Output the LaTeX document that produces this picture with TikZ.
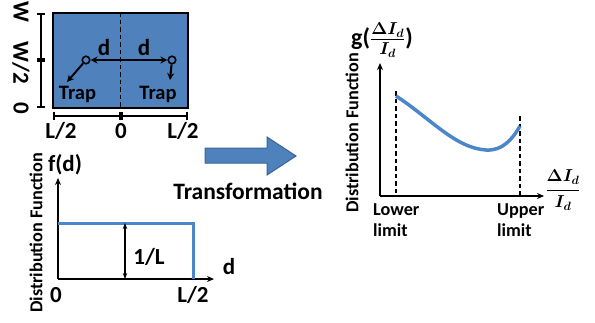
\documentclass[tikz,border=0pt]{standalone}
\usepackage{amsmath}
\usepackage{fontspec}
\setmainfont{Carlito}
\usetikzlibrary{arrows.meta}
\usetikzlibrary{calc}
\usetikzlibrary{positioning}
\definecolor{plotblue}{HTML}{4F81BD}
\definecolor{rimblue}{HTML}{3A6496}
\definecolor{curveblue}{HTML}{4A86C8}
\newcommand{\smallratio}{\ensuremath{\tfrac{\Delta I_d}{I_d}}}
\newcommand{\bigratio}{\ensuremath{\dfrac{\Delta I_d}{I_d}}}

\begin{document}
\begin{tikzpicture}[x=1pt,y=-1pt,
  lbl/.style={font=\bfseries\fontsize{23}{23}\selectfont, inner sep=1pt},
  traplbl/.style={font=\bfseries\fontsize{20.5}{20.5}\selectfont, inner sep=1pt},
  axlbl/.style={font=\bfseries\fontsize{18.2}{21}\selectfont, inner sep=1pt},
  mathlbl/.style={font=\bfseries\boldmath\fontsize{18.2}{18.2}\selectfont, inner sep=1pt},
  big/.style={font=\bfseries\fontsize{23.5}{23.5}\selectfont, inner sep=1pt},
  axis/.style={line width=2pt,-{Stealth[length=7pt,width=6pt]}},
  bar/.style={line width=2pt,{Bar[width=8pt]}-{Bar[width=8pt]}},
  tip/.style={line width=2pt,-{Stealth[length=7pt,width=7pt]}},
  limitline/.style={line width=1.6pt,dash pattern=on 4.5pt off 3pt},
  trap/.style={circle,draw,line width=1.6pt,inner sep=0pt,minimum size=7.5pt}]
  \useasboundingbox (0,0) rectangle (595,322);

  % device with two traps
  \node[draw=black, line width=2pt, fill=plotblue, minimum width=135pt, minimum height=95pt, inner sep=0pt] (chip) at (120.5,60.5) {};
  \draw[limitline] (chip.north) -- (chip.south);
  \coordinate (mid) at (121,60);
  \node[trap] (trapL) at (86,60) {};
  \node[trap] (trapR) at (172,60) {};
  \coordinate (fallL) at (67,82);
  \coordinate (fallR) at (170,80);
  \path [tip] (mid) edge (trapL);
  \path [tip] (mid) edge (trapR);
  \path [tip] (trapL) edge (fallL);
  \path [tip] (trapR) edge (fallR);
  \node[lbl] (dL) at (104,48) {d};
  \node[lbl] (dR) at (144,48) {d};
  \node[traplbl] (trapTxtL) at (77.5,94) {Trap};
  \node[traplbl] (trapTxtR) at (158,94) {Trap};

  % scale bars
  \coordinate (wTop) at (41,13);
  \coordinate (wMid) at (41,60);
  \coordinate (wBot) at (41,108);
  \draw[bar] (wTop) -- (wMid);
  \draw[bar] (wMid) -- (wBot);
  \node[lbl, rotate=-90] (wTxt) at (21,12) {W};
  \node[lbl, rotate=-90] (w2Txt) at (21,63) {W/2};
  \node[lbl, rotate=-90] (w0Txt) at (21,108) {0};
  \coordinate (lLeft) at (53,116);
  \coordinate (lMid) at (121,116);
  \coordinate (lRight) at (188,116);
  \draw[bar] (lLeft) -- (lMid);
  \draw[bar] (lMid) -- (lRight);
  \node[lbl] (lTxtL) at (61,131) {L/2};
  \node[lbl] (l0Txt) at (121,131) {0};
  \node[lbl] (lTxtR) at (183,131) {L/2};

  % uniform distribution of d
  \coordinate (fO) at (58,279);
  \coordinate (fTop) at (58,178);
  \coordinate (fEnd) at (214,279);
  \draw[axis] (fO) -- (fTop);
  \draw[axis] (fO) -- (fEnd);
  \draw[curveblue, line width=3pt] (58,223) -- (193,223) -- (193,279);
  \coordinate (hTop) at (125,223);
  \coordinate (hBot) at (125,279);
  \draw[line width=1.8pt,{Stealth[length=6pt]}-{Stealth[length=6pt]}] (hTop) -- (hBot);
  \node[lbl] (hTxt) at (149,257) {1/L};
  \node[lbl] (fTxt) at (65,165) {f(d)};
  \node[lbl] (dTxt) at (229,267) {d};
  \node[lbl] (f0Txt) at (56,295) {0};
  \node[lbl] (fLTxt) at (193,295) {L/2};
  \node[axlbl, rotate=90] (fDist) at (36,233) {Distribution Function};

  % transformation arrow
  \draw[fill=plotblue, draw=rimblue, line width=1pt] (205,148) -- (267,148) -- (267,137) -- (296,156) -- (267,175) -- (267,163) -- (205,163) -- cycle;
  \node[big] (trans) at (248,191) {Transformation};

  % distribution of the current change
  \coordinate (gO) at (380,196);
  \coordinate (gTop) at (380,63);
  \coordinate (gEnd) at (544,196);
  \draw[axis] (gO) -- (gTop);
  \draw[axis] (gO) -- (gEnd);
  \coordinate (lowTop) at (396,91);
  \coordinate (lowBot) at (396,196);
  \coordinate (upTop) at (520,116);
  \coordinate (upBot) at (520,196);
  \draw[limitline] (lowTop) -- (lowBot);
  \draw[limitline] (upTop) -- (upBot);
  \draw[curveblue, line width=3.5pt] (396,96) .. controls (430,118) and (455,148) .. (486,150) .. controls (502,151) and (512,140) .. (520,126);
  \node[mathlbl, font=\bfseries\boldmath\fontsize{24}{24}\selectfont] (gTxt) at (382,40) {g(\smallratio)};
  \node[mathlbl] (ratioTxt) at (563,190) {\bigratio};
  \node[axlbl, align=left, anchor=north west] (lowTxt) at (372,202) {Lower\\limit};
  \node[axlbl, align=left, anchor=north west] (upTxt) at (496,202) {Upper\\limit};
  \node[axlbl, rotate=90] (gDist) at (352,133) {Distribution Function};
\end{tikzpicture}
\end{document}
